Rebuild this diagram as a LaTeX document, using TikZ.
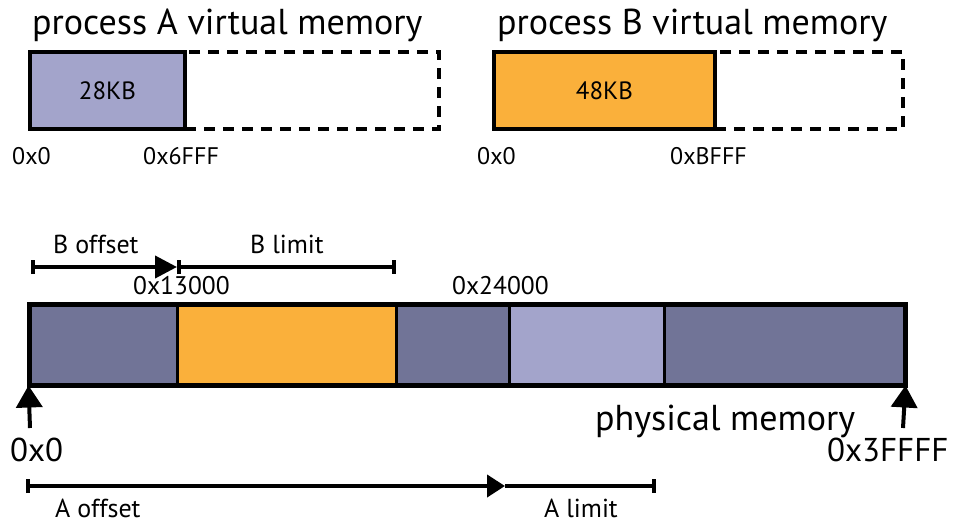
\documentclass[tikz,border=0pt]{standalone}
\usepackage{fontspec}
\setmainfont{PT Sans}
\usetikzlibrary{arrows.meta}
\definecolor{darkseg}{HTML}{717497}
\definecolor{lightseg}{HTML}{A3A4CB}
\definecolor{orangeseg}{HTML}{FAB03B}
\tikzset{
  seg/.style={draw, line width=3pt, inner sep=0pt, minimum height=79pt},
  vbox/.style={draw, line width=4pt, inner sep=0pt, minimum height=77pt},
  dbox/.style={draw, line width=3.5pt, dash pattern=on 11pt off 8pt, inner sep=0pt, minimum height=77pt},
  title/.style={anchor=base west, inner sep=0pt, font=\fontsize{36}{40}\selectfont},
  lab/.style={anchor=base west, inner sep=0pt, font=\fontsize{24}{28}\selectfont},
  sm/.style={anchor=base west, inner sep=0pt, font=\fontsize{26}{30}\selectfont},
  big/.style={anchor=base west, inner sep=0pt, font=\fontsize{33}{38}\selectfont},
  arr/.style={line width=4pt},
  uparrow/.style={-{Triangle[length=22pt,width=26pt]}},
}
\begin{document}
\begin{tikzpicture}[x=1pt,y=-1pt]
\useasboundingbox (0,0) rectangle (954,524);
% titles
\node[title] (tA) at (32,35) {process A virtual memory};
\node[title] (tB) at (497,35) {process B virtual memory};
% process A
\node[dbox, minimum width=254pt] (Afree) at (312,90.5) {};
\node[vbox, fill=lightseg, minimum width=155pt, font=\fontsize{25}{29}\selectfont] (Amem) at (107.5,90.5) {28KB};
\node[lab] (a0) at (12,165) {0x0};
\node[lab] (aend) at (143,165) {0x6FFF};
% process B
\node[dbox, minimum width=188pt] (Bfree) at (809,90.5) {};
\node[vbox, fill=orangeseg, minimum width=221pt, font=\fontsize{25}{29}\selectfont] (Bmem) at (604.5,90.5) {48KB};
\node[lab] (b0) at (477,165) {0x0};
\node[lab] (bend) at (670,165) {0xBFFF};
% physical memory
\node[seg, fill=darkseg, minimum width=147pt] (p1) at (103.5,344.5) {};
\node[seg, fill=orangeseg, minimum width=219pt] (p2) at (286.5,344.5) {};
\node[seg, fill=darkseg, minimum width=113pt] (p3) at (452.5,344.5) {};
\node[seg, fill=lightseg, minimum width=155pt] (p4) at (586.5,344.5) {};
\node[seg, fill=darkseg, minimum width=240pt] (p5) at (784,344.5) {};
\draw[line width=4pt] (p1.north west) rectangle (p5.south east);
% B offset / limit
\coordinate (bo0) at (31,267);
\coordinate (bo1) at (177,267);
\coordinate (bl1) at (396,267);
\draw[arr, {Bar[width=14pt]}-{Triangle[length=22pt,width=22pt]}] (bo0) -- (bo1);
\draw[arr, {Bar[width=14pt]}-{Bar[width=14pt]}] (bo1) -- (bl1);
\node[sm] (boff) at (53,254) {B offset};
\node[sm] (blim) at (250,254) {B limit};
\node[lab, font=\fontsize{25.5}{29}\selectfont] (b13) at (133,294) {0x13000};
\node[lab, font=\fontsize{25.5}{29}\selectfont] (a24) at (452,294) {0x24000};
% vertical arrows
\coordinate (v0) at (30,428);
\coordinate (v1) at (903,428);
\draw[arr, uparrow] (v0) -- (p1.south west);
\draw[arr, uparrow] (v1) -- (p5.south east);
\node[big] (z0) at (10,461) {0x0};
\node[big] (zend) at (827,461) {0x3FFFF};
\node[title] (phys) at (595,430) {physical memory};
% A offset / limit
\coordinate (ao0) at (26,486);
\coordinate (ao1) at (505,486);
\coordinate (al1) at (656,486);
\draw[arr, {Bar[width=14pt]}-{Triangle[length=18pt,width=22pt]}] (ao0) -- (ao1);
\draw[arr, -{Bar[width=14pt]}] (ao1) -- (al1);
\node[sm] (aoff) at (55,517) {A offset};
\node[sm] (alim) at (544,517) {A limit};
\end{tikzpicture}
\end{document}
